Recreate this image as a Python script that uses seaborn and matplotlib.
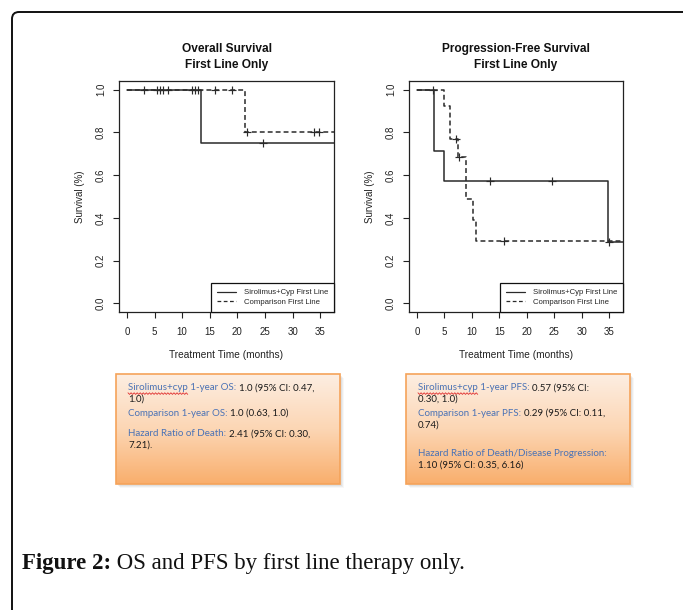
import numpy as np
import pandas as pd
import matplotlib
matplotlib.use("Agg")
import matplotlib.pyplot as plt
import seaborn as sns
from matplotlib.lines import Line2D
from matplotlib.patches import Rectangle, FancyBboxPatch
from matplotlib.colors import LinearSegmentedColormap
from matplotlib.transforms import IdentityTransform

# ---------------- data ----------------
os_sir_time = [0, 13.5, 37.5]
os_sir_surv = [1.0, 0.75, 0.75]
os_cmp_time = [0, 21.4, 37.5]
os_cmp_surv = [1.0, 0.80, 0.80]
os_sir_cens_t = [3.0, 6.0, 7.5, 11.7, 12.9, 24.6]
os_sir_cens_s = [1.0, 1.0, 1.0, 1.0, 1.0, 0.75]
os_cmp_cens_t = [5.4, 6.6, 12.3, 16.0, 19.0, 21.7, 33.8, 34.7]
os_cmp_cens_s = [1.0, 1.0, 1.0, 1.0, 1.0, 0.80, 0.80, 0.80]

pfs_sir_time = [0, 3.2, 5.0, 34.7, 37.5]
pfs_sir_surv = [1.0, 0.714, 0.571, 0.286, 0.286]
pfs_cmp_time = [0, 5.0, 6.0, 7.4, 9.0, 10.2, 10.8, 37.5]
pfs_cmp_surv = [1.0, 0.923, 0.769, 0.684, 0.489, 0.391, 0.293, 0.293]
pfs_sir_cens_t = [13.3, 24.6, 35.0]
pfs_sir_cens_s = [0.571, 0.571, 0.286]
pfs_cmp_cens_t = [2.9, 7.2, 7.7, 15.9]
pfs_cmp_cens_s = [1.0, 0.769, 0.684, 0.293]

groups = ["Sirolimus+Cyp First Line", "Comparison First Line"]
titles = ["Overall Survival\nFirst Line Only", "Progression-Free Survival\nFirst Line Only"]
x_ticks = [0, 5, 10, 15, 20, 25, 30, 35]
y_ticks = [0.0, 0.2, 0.4, 0.6, 0.8, 1.0]

box_left = [
    [("Sirolimus+cyp 1-year OS: ", "1.0 (95% CI: 0.47,")],
    [("", "1.0)")],
    [("Comparison 1-year OS: ", "1.0 (0.63, 1.0)")],
    [("Hazard Ratio of Death: ", "2.41 (95% CI: 0.30,")],
    [("", "7.21).")],
]
box_right = [
    [("Sirolimus+cyp 1-year PFS: ", "0.57 (95% CI:")],
    [("", "0.30, 1.0)")],
    [("Comparison 1-year PFS: ", "0.29 (95% CI: 0.11,")],
    [("", "0.74)")],
    [("Hazard Ratio of Death/Disease Progression:", "")],
    [("", "1.10 (95% CI: 0.35, 6.16)")],
]
caption_bold = "Figure 2:"
caption_rest = " OS and PFS by first line therapy only."

# ---------------- layout ----------------
W, H = 683, 610
sns.set_theme(style="white")
plt.rcParams['font.family'] = ['Liberation Sans', 'DejaVu Sans']
fig = plt.figure(figsize=(W / 100, H / 100), dpi=100)

def fx(x): return x / W
def fy(y): return 1 - y / H

# outer rounded frame
frame = FancyBboxPatch((12, -60), 760, 610 - 12 + 60, boxstyle="round,pad=0,rounding_size=7",
                       transform=IdentityTransform(), fill=False, edgecolor='#111111', lw=1.4)
fig.patches.append(frame)

axes_px = [(119, 81, 334, 312), (409, 81, 623, 312)]
datasets = [
    (os_sir_time, os_sir_surv, os_cmp_time, os_cmp_surv, os_sir_cens_t, os_sir_cens_s, os_cmp_cens_t, os_cmp_cens_s),
    (pfs_sir_time, pfs_sir_surv, pfs_cmp_time, pfs_cmp_surv, pfs_sir_cens_t, pfs_sir_cens_s, pfs_cmp_cens_t, pfs_cmp_cens_s),
]
lc = '#2a2a2a'
for (x0, y0, x1, y1), ds, title in zip(axes_px, datasets, titles):
    ax = fig.add_axes([fx(x0), fy(y1), (x1 - x0) / W, (y1 - y0) / H])
    st, ss, ct, cs, sct, scs, cct, ccs = ds
    df_s = pd.DataFrame({"t": st, "s": ss})
    df_c = pd.DataFrame({"t": ct, "s": cs})
    sns.lineplot(data=df_s, x="t", y="s", ax=ax, color=lc, lw=1.1, drawstyle='steps-post',
                 estimator=None, sort=False)
    sns.lineplot(data=df_c, x="t", y="s", ax=ax, color=lc, lw=1.1, drawstyle='steps-post',
                 estimator=None, sort=False, dashes=False, linestyle=(0, (3.2, 2.0)))
    cens = pd.DataFrame({"t": sct + cct, "s": scs + ccs})
    sns.scatterplot(data=cens, x="t", y="s", ax=ax, marker='+', color=lc, s=32, linewidth=0.85)
    ax.set_xlim(-1.44, 37.5)
    ax.set_ylim(-0.04, 1.04)
    ax.set_xticks(x_ticks)
    ax.set_xticklabels([str(v) for v in x_ticks])
    ax.set_yticks(y_ticks)
    ax.set_yticklabels([f"{v:.1f}" for v in y_ticks], rotation=90, va='center')
    ax.tick_params(axis='both', direction='out', length=4.3, width=0.8, color='#222222',
                   labelsize=7.0, labelcolor='#222222', bottom=True, left=True)
    ax.tick_params(axis='x', pad=6.5)
    ax.tick_params(axis='y', pad=5.0)
    for sp in ax.spines.values():
        sp.set_visible(True)
        sp.set_color('#222222')
        sp.set_linewidth(0.9)
    ax.set_xlabel("Treatment Time (months)", fontsize=7.3, color='#222222', labelpad=9)
    ax.set_ylabel("Survival (%)", fontsize=7.0, color='#222222', labelpad=8)
    handles = [Line2D([], [], color=lc, lw=0.9),
               Line2D([], [], color=lc, lw=0.9, linestyle=(0, (3, 2)))]
    leg = ax.legend(handles, groups, loc='lower right', borderaxespad=0, fancybox=False,
                    edgecolor='#111111', framealpha=1, fontsize=5.6, handlelength=2.5,
                    borderpad=0.75, labelspacing=0.3, handletextpad=1.0)
    leg.get_frame().set_linewidth(0.9)
    fig.text(fx((x0 + x1) / 2), fy(57), title, ha='center', va='center', fontsize=8.6,
             fontweight='bold', color='#111111', linespacing=1.4)

# ---------------- orange note boxes ----------------
cmap = LinearSegmentedColormap.from_list("peach", ["#fdeee2", "#fcd6b4", "#f9ae6c"])
grad = np.linspace(0, 1, 256).reshape(-1, 1)
boxes_px = [(116, 374, 340, 484), (406, 374, 630, 484)]
for (x0, y0, x1, y1) in boxes_px:
    for k, a in [(4, 0.06), (3, 0.08), (2, 0.10)]:
        fig.patches.append(Rectangle((fx(x0 + k), fy(y1 + k)), (x1 - x0) / W, (y1 - y0) / H,
                                     transform=fig.transFigure, facecolor='#777777', alpha=a,
                                     edgecolor='none', zorder=-5))
    bx = fig.add_axes([fx(x0), fy(y1), (x1 - x0) / W, (y1 - y0) / H])
    bx.imshow(grad, aspect='auto', cmap=cmap, extent=[0, 1, 0, 1], origin='upper')
    bx.axis('off')
    fig.add_artist(Rectangle((fx(x0), fy(y1)), (x1 - x0) / W, (y1 - y0) / H,
                             transform=fig.transFigure, fill=False, edgecolor='#f5a35a', lw=1.2,
                             zorder=3))

blue = '#4a72b5'
txt_font = ['Lato', 'DejaVu Sans']
tsz = 7.0
renderer = fig.canvas.get_renderer()

def write_lines(lines, x_px, ys_px):
    for line, y in zip(lines, ys_px):
        (bpart, kpart), = line
        x = fx(x_px)
        if bpart:
            t = fig.text(x, fy(y), bpart, color=blue, fontsize=tsz, family=txt_font, va='center',
                         zorder=4)
            bb = t.get_window_extent(renderer)
            if bpart.startswith("Sirolimus+cyp"):
                t0 = fig.text(x, fy(y), "Sirolimus+cyp", fontsize=tsz, family=txt_font,
                              va='center', alpha=0)
                b0 = t0.get_window_extent(renderer)
                xs = np.linspace(b0.x0, b0.x1, 40)
                ys = (H - y - 5.6) + 0.8 * np.where(np.arange(40) % 2 == 0, 1, -1)
                fig.add_artist(Line2D(xs, ys, transform=IdentityTransform(), color='#e03030',
                                      lw=0.6, zorder=4))
            x = bb.x1 / W
        if kpart:
            fig.text(x, fy(y), kpart, color='#1a1a1a', fontsize=tsz, family=txt_font, va='center',
                     zorder=4)

write_lines(box_left, 128, [388, 399, 413, 434, 445])
write_lines(box_right, 418, [388, 399, 413, 425, 453, 465])

# ---------------- caption ----------------
cap_font = ['Liberation Serif', 'DejaVu Serif']
tb = fig.text(fx(22), fy(563), caption_bold, fontsize=16.5, family=cap_font,
              fontweight='bold', va='center', color='#111111')
bb = tb.get_window_extent(renderer)
fig.text(bb.x1 / W, fy(563), caption_rest, fontsize=16.5, family=cap_font,
         va='center', color='#111111')

fig.savefig("out.png", dpi=100)
